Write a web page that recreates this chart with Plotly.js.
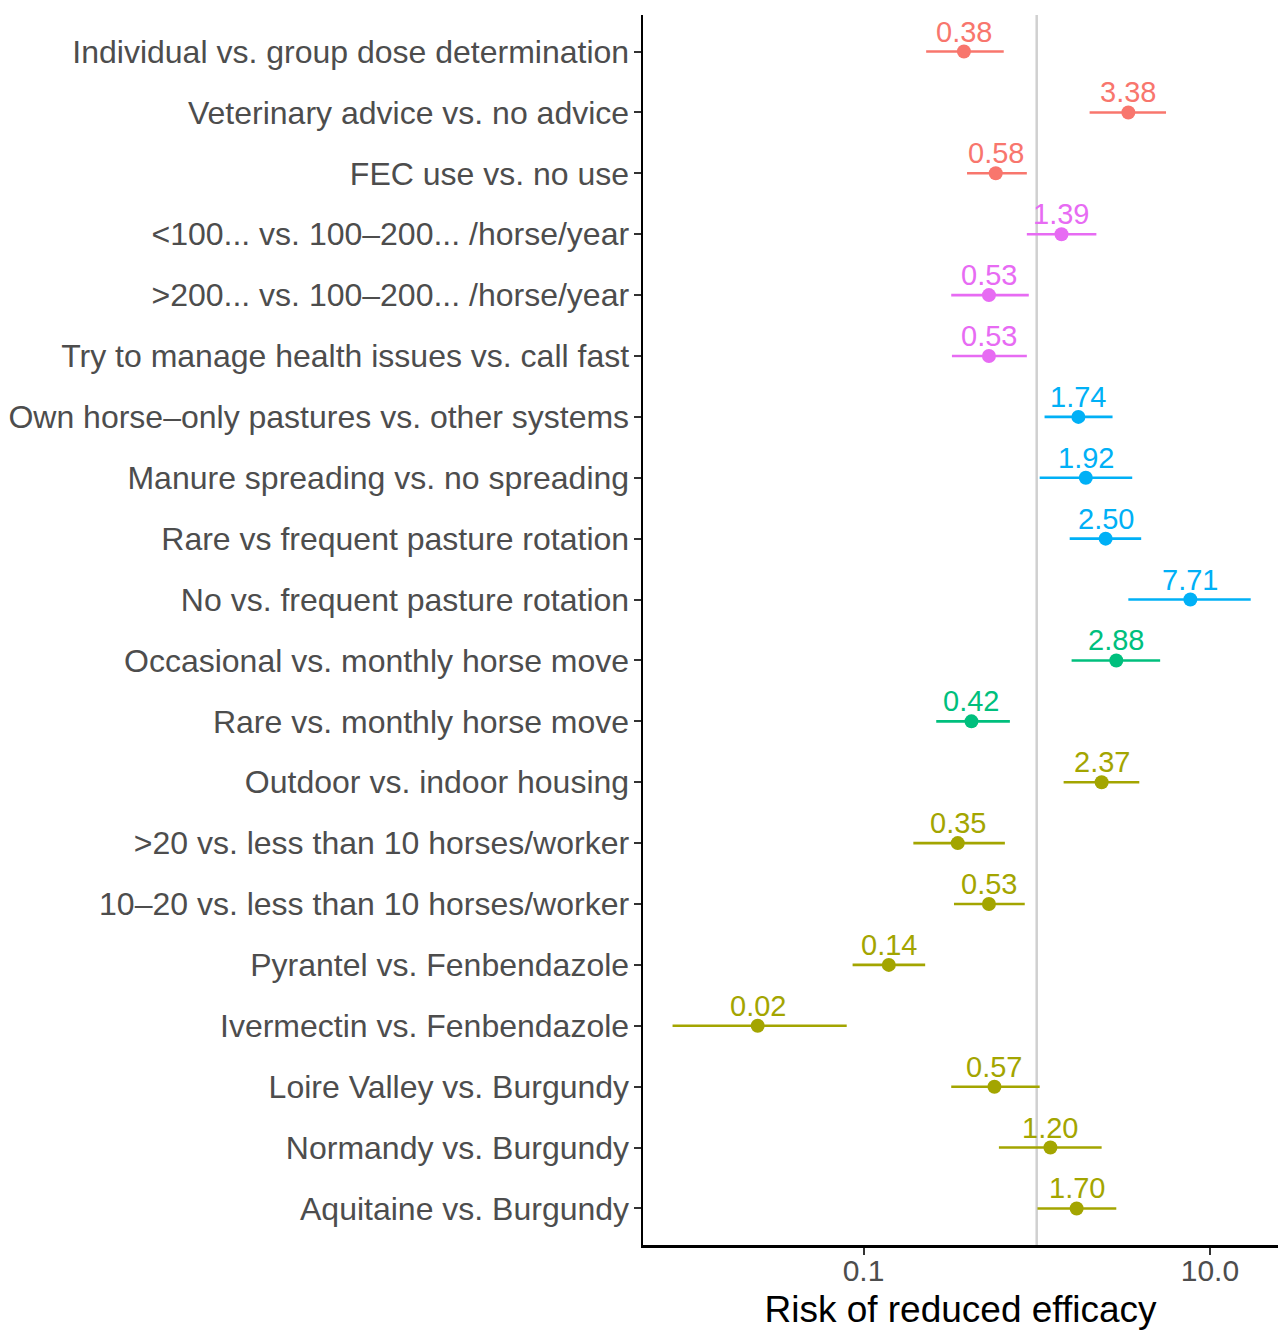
<!DOCTYPE html>
<html>
<head>
<meta charset="utf-8">
<script src="https://cdn.plot.ly/plotly-3.0.1.min.js"></script>
<style>
  html, body { margin: 0; padding: 0; background: #ffffff; }
  #chart { width: 1278px; height: 1330px; }
</style>
</head>
<body>
<div id="chart"></div>
<script>
// ---- Data ----
const categories = [
  "Individual vs. group dose determination",
  "Veterinary advice vs. no advice",
  "FEC use vs. no use",
  "<100... vs. 100\u2013200... /horse/year",
  ">200... vs. 100\u2013200... /horse/year",
  "Try to manage health issues vs. call fast",
  "Own horse\u2013only pastures vs. other systems",
  "Manure spreading vs. no spreading",
  "Rare vs frequent pasture rotation",
  "No vs. frequent pasture rotation",
  "Occasional vs. monthly horse move",
  "Rare vs. monthly horse move",
  "Outdoor vs. indoor housing",
  ">20 vs. less than 10 horses/worker",
  "10\u201320 vs. less than 10 horses/worker",
  "Pyrantel vs. Fenbendazole",
  "Ivermectin vs. Fenbendazole",
  "Loire Valley vs. Burgundy",
  "Normandy vs. Burgundy",
  "Aquitaine vs. Burgundy"
];
const oddsRatio = [0.38, 3.38, 0.58, 1.39, 0.53, 0.53, 1.74, 1.92, 2.50, 7.71,
                   2.88, 0.42, 2.37, 0.35, 0.53, 0.14, 0.0245, 0.57, 1.20, 1.70];
const ciLower   = [0.23, 2.02, 0.396, 0.877, 0.321, 0.324, 1.11, 1.04, 1.55, 3.38,
                   1.59, 0.263, 1.43, 0.194, 0.333, 0.0865, 0.0079, 0.321, 0.605, 1.01];
const ciUpper   = [0.645, 5.58, 0.877, 2.21, 0.90, 0.877, 2.74, 3.56, 4.01, 17.2,
                   5.16, 0.70, 3.91, 0.655, 0.853, 0.227, 0.080, 1.04, 2.37, 2.88];
const groupOf   = [1, 1, 1, 5, 5, 5, 4, 4, 4, 4,
                   3, 3, 2, 2, 2, 2, 2, 2, 2, 2];
const groupColors = {1: "#F8766D", 2: "#A3A500", 3: "#00BF7D", 4: "#00B0F6", 5: "#E76BF3"};
const xTickVals  = [0.1, 10];
const xTickText  = ["0.1", "10.0"];
const refValue = 1;
const xTitle = "Risk of reduced efficacy";

// ---- Build traces, one per group ----
const FONT = "Liberation Sans, Arial, Helvetica, sans-serif";
const traces = [];
[1, 2, 3, 4, 5].forEach(g => {
  const idx = oddsRatio.map((_, i) => i).filter(i => groupOf[i] === g);
  const col = groupColors[g];
  traces.push({
    type: "scatter",
    mode: "markers",
    x: idx.map(i => oddsRatio[i]),
    y: idx.map(i => i),
    marker: {color: col, size: 14, symbol: "circle"},
    error_x: {
      type: "data",
      symmetric: false,
      array: idx.map(i => ciUpper[i] - oddsRatio[i]),
      arrayminus: idx.map(i => oddsRatio[i] - ciLower[i]),
      color: col,
      thickness: 2.6,
      width: 0
    },
    cliponaxis: false,
    hoverinfo: "x+y",
    showlegend: false
  });
});

// value labels above each point
const annotations = oddsRatio.map((v, i) => ({
  x: Math.log10(v),
  y: i,
  xref: "x",
  yref: "y",
  text: v.toFixed(2),
  showarrow: false,
  yshift: 20,
  font: {family: FONT, size: 29, color: groupColors[groupOf[i]]}
}));

const layout = {
  width: 1278,
  height: 1330,
  margin: {l: 643, r: 0, t: 15, b: 85},
  paper_bgcolor: "#ffffff",
  plot_bgcolor: "#ffffff",
  showlegend: false,
  font: {family: FONT},
  annotations: annotations,
  xaxis: {
    type: "log",
    range: [-2.273, 1.393],
    tickvals: xTickVals,
    ticktext: xTickText,
    tickfont: {family: FONT, size: 30, color: "#4D4D4D"},
    ticks: "outside",
    ticklen: 7,
    tickwidth: 2,
    tickcolor: "#333333",
    ticklabelstandoff: -10,
    showgrid: false,
    zeroline: false,
    showline: true,
    linecolor: "#000000",
    linewidth: 2.5,
    title: {text: xTitle, font: {family: FONT, size: 37, color: "#000000"}, standoff: 20}
  },
  yaxis: {
    range: [19.6, -0.6],
    tickvals: categories.map((_, i) => i),
    ticktext: categories,
    tickfont: {family: FONT, size: 32, color: "#4D4D4D"},
    ticks: "outside",
    ticklen: 7,
    tickwidth: 2,
    tickcolor: "#333333",
    ticklabelstandoff: -2,
    showgrid: false,
    zeroline: false,
    showline: true,
    linecolor: "#000000",
    linewidth: 2.5
  },
  shapes: [{
    type: "line",
    xref: "x", yref: "paper",
    x0: refValue, x1: refValue, y0: 0, y1: 1,
    line: {color: "#D0D0D0", width: 2.5},
    layer: "below"
  }]
};

Plotly.newPlot("chart", traces, layout, {displayModeBar: false, staticPlot: true});
</script>
</body>
</html>
